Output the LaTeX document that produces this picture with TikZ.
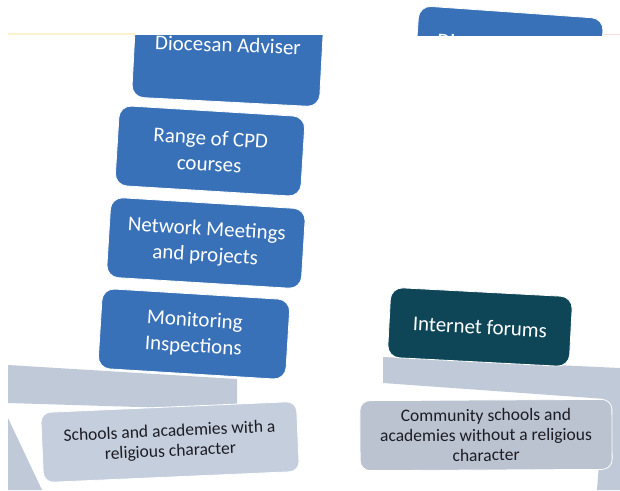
\documentclass[tikz,border=0pt]{standalone}
\usepackage{fontspec}
\setmainfont{Carlito}
\definecolor{boxblue}{RGB}{56,113,184}
\definecolor{boxteal}{RGB}{14,70,88}
\definecolor{greyleft}{RGB}{196,206,220}
\definecolor{greyright}{RGB}{187,195,208}
\definecolor{greybar}{RGB}{191,201,215}
\definecolor{greytext}{RGB}{28,28,36}

\begin{document}
\begin{tikzpicture}
	[x=1pt,y=-1pt,
	 bluebox/.style={draw=white,thick,fill=boxblue,rounded corners=12pt,minimum width=188pt,minimum height=80pt,
	                 text=white,align=center,font=\fontsize{21}{26}\selectfont},
	 tealbox/.style={bluebox,fill=boxteal,minimum width=182pt,minimum height=70pt},
	 greybox/.style={draw=white,thick,rounded corners=10pt,minimum width=254pt,minimum height=70pt,
	                 text=greytext,align=center,font=\fontsize{17.5}{20}\selectfont}]

	\path [use as bounding box] (0,0) rectangle (620,490);

	% grey bars and wedges behind the boxes
	\fill[greybar] (8,365) -- (237,379) -- (237,410) -- (8,403) -- cycle;
	\fill[greybar] (8,418) -- (42,490) -- (8,490) -- cycle;
	\fill[greybar] (383,357) -- (620,368) -- (620,400) -- (383,383) -- cycle;
	\fill[greybar] (604,398) -- (620,398) -- (620,490) -- (597,490) -- cycle;

	% faint top rules
	\draw[color={rgb,255:red,255;green,243;blue,205},line width=1.5pt] (8,34) -- (135,34);
	\draw[color={rgb,255:red,250;green,222;blue,228},line width=1pt] (600,34) -- (620,34);

	% left column
	\begin{scope}
		\clip (0,35) rectangle (620,490);
		\node[bluebox,minimum height=100pt,rotate=-3] (adviser) at (228,52) {};
		\node[bluebox,draw=none,fill=none,minimum height=0pt,rotate=-2] (advisertext) at (228,45) {Diocesan Adviser};
	\end{scope}
	\node[bluebox,minimum width=186pt,rotate=-3.5] (cpd) at (210,151) {Range of CPD\\courses};
	\node[bluebox,minimum width=195pt,rotate=-3.5] (network) at (206,243) {Network Meetings\\and projects};
	\node[bluebox,rotate=-3.5] (monitoring) at (194,334) {Monitoring\\Inspections};

	\node[greybox,fill=greyleft,minimum width=256pt,rotate=2.5] (religious) at (170,442)
		{Schools and academies with a\\religious character};

	% right column
	\begin{scope}
		\clip (0,0) rectangle (620,35);
		\node[bluebox,minimum width=185pt,minimum height=100pt,rotate=-4] (adviserR) at (508,62) {};
		\node[bluebox,draw=none,fill=none,minimum height=0pt,rotate=-4] (adviserRtext) at (510,45) {Diocesan Adviser};
	\end{scope}
	\node[tealbox,rotate=-3] (forums) at (480,327) {Internet forums};

	\node[greybox,fill=greyright,minimum width=252pt,rotate=0.3] (community) at (486,435)
		{Community schools and\\academies without a religious\\character};
\end{tikzpicture}
\end{document}
